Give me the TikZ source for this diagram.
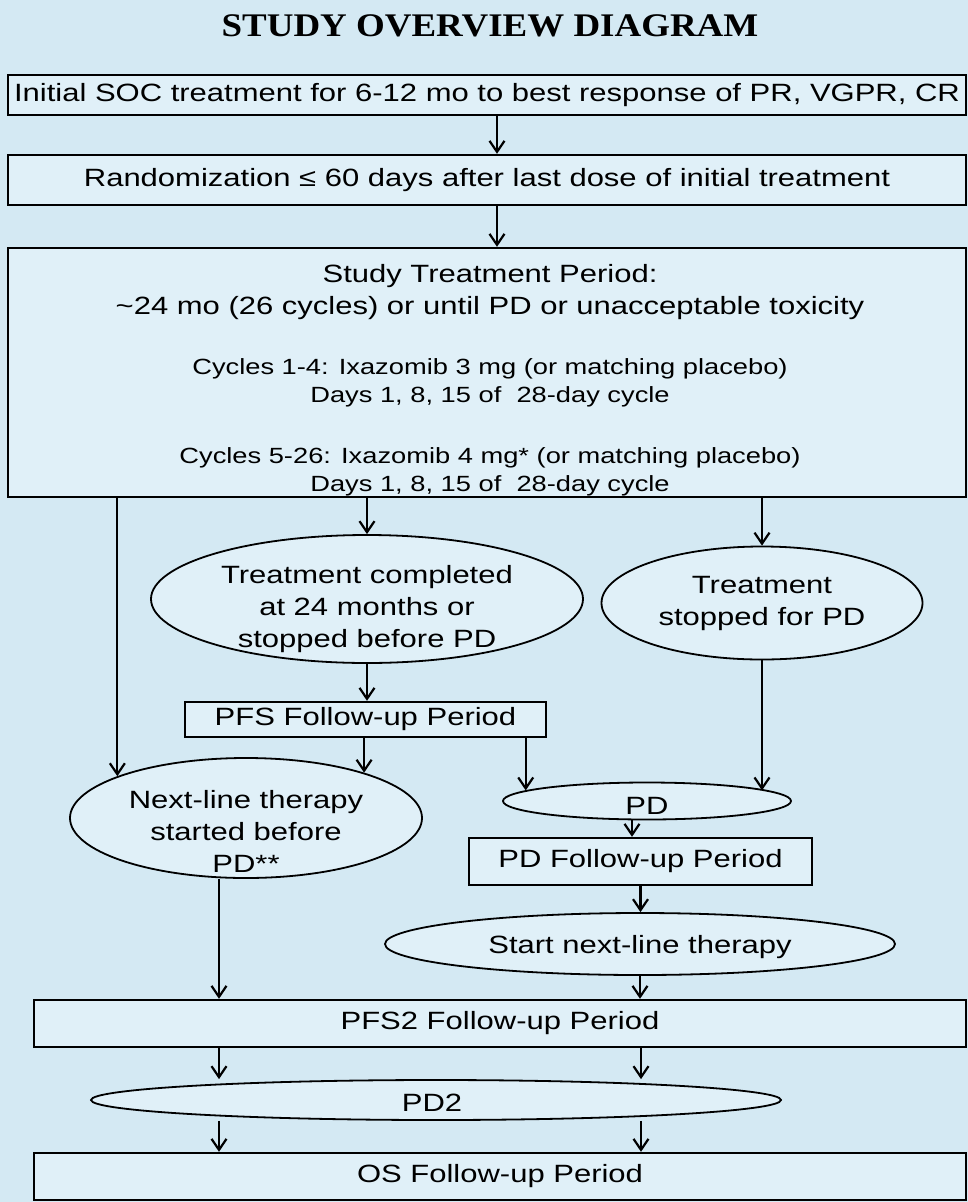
\documentclass[tikz,border=0pt]{standalone}
\usepackage{fontspec}
\setmainfont{Liberation Sans}[FakeStretch=1.24]
\newfontfamily\titlefont{Liberation Serif}[FakeStretch=1.12]
\usetikzlibrary{shapes.geometric, arrows.meta, positioning}
\definecolor{bgblue}{RGB}{212,233,243}
\definecolor{boxblue}{RGB}{224,240,248}
\tikzset{
	box/.style={draw, line width=2.4pt, fill=boxblue, inner sep=0pt},
	oval/.style={ellipse, draw, line width=1.8pt, fill=boxblue, inner sep=0pt},
	txt/.style={font=\fontsize{25}{32}\selectfont, align=center},
	smalltxt/.style={font=\fontsize{22}{28}\selectfont, align=center},
	arr/.style={-{Straight Barb[length=11pt,width=15pt]}, line width=2.2pt}
}

\begin{document}
\begin{tikzpicture}[x=1pt, y=-1pt]
	\fill[bgblue] (0,0) rectangle (968,1202);
	\useasboundingbox (0,0) rectangle (968,1202);
	
	\coordinate (lc) at (219,0);
	\coordinate (rc) at (641,0);
	
	\node[font=\titlefont\bfseries\fontsize{33}{36}\selectfont] (title) at (490,26) {STUDY OVERVIEW DIAGRAM};
	
	% boxes
	\node[box, txt, minimum width=958pt, minimum height=40pt] (soc) at (487,95) {Initial SOC treatment for 6-12 mo to best response of PR, VGPR, CR};
	\node[box, txt, minimum width=958pt, minimum height=50pt] (rand) at (487,180) {Randomization ≤ 60 days after last dose of initial treatment};
	\node[box, minimum width=958pt, minimum height=249pt] (stp) at (487,372.5) {};
	\node[txt] (stp1) at (490,276) {Study Treatment Period:};
	\node[txt] (stp2) at (490,308) {\textasciitilde 24 mo (26 cycles) or until PD or unacceptable toxicity};
	\node[smalltxt] (cyc1) at (490,369) {Cycles 1-4: Ixazomib 3 mg (or matching placebo)};
	\node[smalltxt] (day1) at (490,397) {Days 1, 8, 15 of~ 28-day cycle};
	\node[smalltxt] (cyc2) at (490,458) {Cycles 5-26: Ixazomib 4 mg* (or matching placebo)};
	\node[smalltxt] (day2) at (490,486) {Days 1, 8, 15 of~ 28-day cycle};
	
	\node[box, txt, minimum width=361pt, minimum height=35pt] (pfs) at (365.5,719.5) {PFS Follow-up Period};
	\node[box, txt, minimum width=343pt, minimum height=47pt] (pdfu) at (640.5,861.5) {PD Follow-up Period};
	\node[box, txt, minimum width=932pt, minimum height=47pt] (pfs2) at (500,1023.5) {PFS2 Follow-up Period};
	\node[box, txt, minimum width=932pt, minimum height=47pt] (os) at (500,1176.5) {OS Follow-up Period};
	
	% ellipses
	\node[oval, minimum width=432pt, minimum height=128pt, label={[txt, yshift=-10pt]center:{Treatment completed\\at 24 months or\\stopped before PD}}] (done) at (367,599) {};
	\node[oval, minimum width=321pt, minimum height=113pt, label={[txt]center:{Treatment\\stopped for PD}}] (stop) at (762,603) {};
	\node[oval, minimum width=352pt, minimum height=120pt, label={[txt, yshift=-13pt]center:{Next-line therapy\\started before\\PD**}}] (nextl) at (246,818) {};
	\node[oval, minimum width=288pt, minimum height=37pt, label={[txt, yshift=-5pt]center:PD}] (pd) at (647,801) {};
	\node[oval, minimum width=510pt, minimum height=62pt, label={[txt, yshift=-3pt]center:Start next-line therapy}] (start) at (640,944) {};
	\node[oval, minimum width=690pt, minimum height=40pt, label={[txt, yshift=-3pt, xshift=-4pt]center:PD2}] (pd2) at (436,1100) {};
	
	% arrows
	\draw[arr] ([xshift=10pt]soc.south) -- ([xshift=10pt]rand.north);
	\draw[arr] ([xshift=10pt]rand.south) -- ([xshift=10pt]stp.north);
	\draw[arr] (stp.south -| done.north) -- (done.north);
	\draw[arr] (stp.south -| stop.north) -- (stop.north);
	\draw[arr] (stp.south -| nextl.162) -- (nextl.162);
	\draw[arr] (done.south) -- (done.south |- pfs.north);
	\draw[arr] (pfs.south -| nextl.21) -- (nextl.21);
	\draw[arr] (pfs.south -| pd.175) -- (pd.175);
	\draw[arr] (stop.south) -- (stop.south |- pd.5);
	\draw[arr] ([xshift=-15pt]pd.south) -- ([xshift=-15pt]pd.south |- pdfu.north);
	\draw[arr] (pdfu.south) -- (pdfu.south |- start.north);
	\draw[arr] (start.south) -- (start.south |- pfs2.north);
	\draw[arr] (nextl.south -| lc) -- (pfs2.north -| lc);
	\draw[arr] (pfs2.south -| lc) -- (pd2.north -| lc);
	\draw[arr] (pfs2.south -| rc) -- (pd2.north -| rc);
	\draw[arr] (pd2.south -| lc) -- (os.north -| lc);
	\draw[arr] (pd2.south -| rc) -- (os.north -| rc);
\end{tikzpicture}
\end{document}
